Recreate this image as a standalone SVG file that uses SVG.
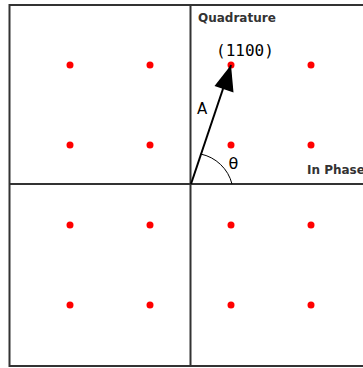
<svg xmlns="http://www.w3.org/2000/svg" width="363" height="368" viewBox="0 0 363 368">
<style>
.ax{stroke:#333;stroke-width:2;fill:none}
.pt{fill:#f00}
.lb{font-family:"DejaVu Sans",Verdana,sans-serif;font-weight:bold;font-size:12px;fill:#333}
</style>
<rect width="363" height="368" fill="#fff"/>
<g id="axes">
<path class="ax" d="M364,5 H9.5 V366 H364"/>
<path class="ax" d="M190.5,5 V366 M9.5,184 H364"/>
</g>
<g id="points">
<circle class="pt" cx="70" cy="65" r="3.5"/><circle class="pt" cx="150" cy="65" r="3.5"/><circle class="pt" cx="231" cy="65" r="3.5"/><circle class="pt" cx="311" cy="65" r="3.5"/>
<circle class="pt" cx="70" cy="145" r="3.5"/><circle class="pt" cx="150" cy="145" r="3.5"/><circle class="pt" cx="231" cy="145" r="3.5"/><circle class="pt" cx="311" cy="145" r="3.5"/>
<circle class="pt" cx="70" cy="225" r="3.5"/><circle class="pt" cx="150" cy="225" r="3.5"/><circle class="pt" cx="231" cy="225" r="3.5"/><circle class="pt" cx="311" cy="225" r="3.5"/>
<circle class="pt" cx="70" cy="305" r="3.5"/><circle class="pt" cx="150" cy="305" r="3.5"/><circle class="pt" cx="231" cy="305" r="3.5"/><circle class="pt" cx="311" cy="305" r="3.5"/>
</g>
<g id="connectors">
<line x1="191" y1="184" x2="231" y2="65" stroke="#000" stroke-width="2"/>
<path d="M231,65 L233.5,92.5 L214.5,86 Z" fill="#000"/>
<path d="M200.5,154 A41,41 0 0 1 232,184" fill="none" stroke="#000" stroke-width="1"/>
</g>
<g id="labels">
<text class="lb" x="198" y="22">Quadrature</text>
<text class="lb" x="307" y="174">In Phase</text>
<text x="216" y="56" font-family="'DejaVu Sans Mono','Liberation Mono',monospace" font-size="16" fill="#000">(1100)</text>
<text x="197" y="113.5" font-family="'DejaVu Sans',sans-serif" font-size="15" fill="#000">A</text>
<text x="228.5" y="169" font-family="'DejaVu Sans',sans-serif" font-size="16" fill="#000">θ</text>
</g>
</svg>
